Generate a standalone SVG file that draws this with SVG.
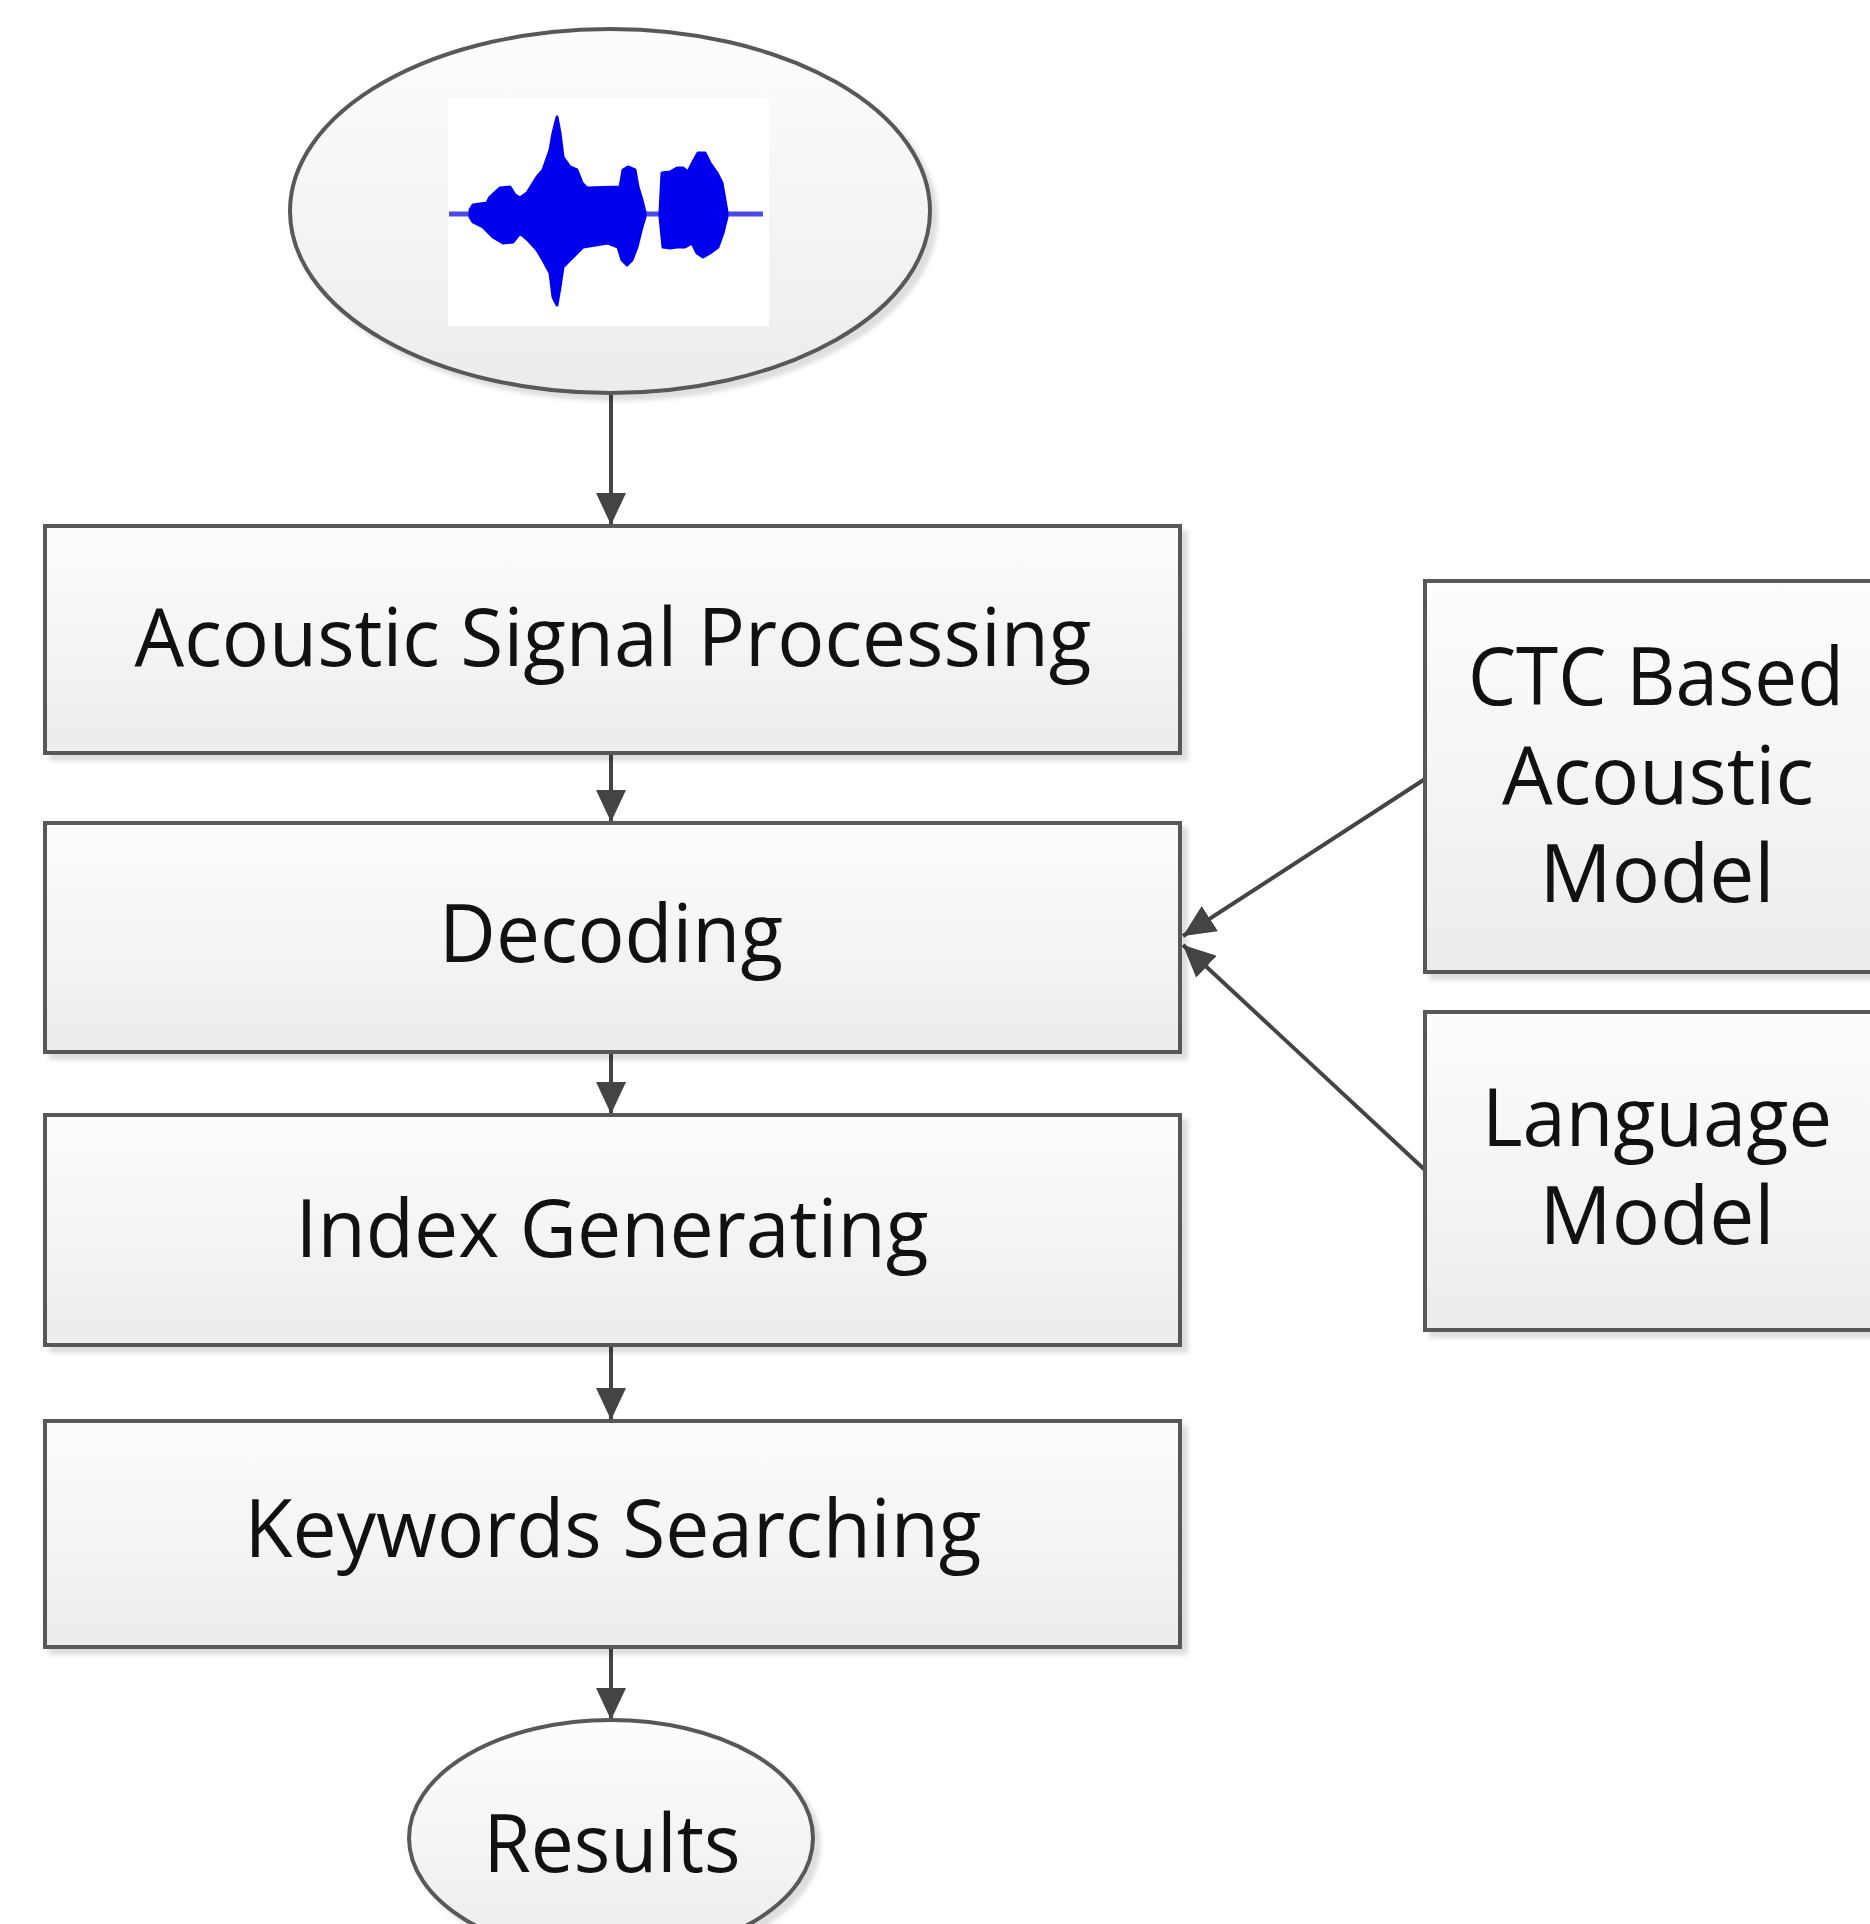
<svg xmlns="http://www.w3.org/2000/svg" width="1870" height="1924" viewBox="0 0 1870 1924">
<style>
.box{fill:url(#g);stroke:#595959;stroke-width:4;filter:url(#sh)}
.t{font-family:"Open Sans","Noto Sans",sans-serif;font-size:80px;fill:#111;text-anchor:middle}
.c{stroke:#444;stroke-width:4;fill:none;marker-end:url(#ah)}
.w{fill:#0000ee;stroke:#0000ee;stroke-width:3;stroke-linejoin:round}
</style>
<defs>
<linearGradient id="g" x1="0" y1="0" x2="0" y2="1"><stop offset="0" stop-color="#fdfdfd"/><stop offset="1" stop-color="#ececec"/></linearGradient>
<filter id="sh" x="-5%" y="-5%" width="115%" height="120%"><feDropShadow dx="6" dy="6" stdDeviation="2" flood-color="#000" flood-opacity="0.13"/></filter>
<marker id="ah" markerUnits="userSpaceOnUse" markerWidth="32" markerHeight="30" viewBox="0 0 32 30" refX="32" refY="15" orient="auto"><path d="M0,0 L32,15 L0,30 z" fill="#444"/></marker>
</defs>
<rect width="1870" height="1924" fill="#fff"/>
<g id="connectors">
<line class="c" x1="611" y1="395" x2="611" y2="525"/>
<line class="c" x1="611" y1="754" x2="611" y2="822"/>
<line class="c" x1="611" y1="1054" x2="611" y2="1114"/>
<line class="c" x1="611" y1="1347" x2="611" y2="1420"/>
<line class="c" x1="611" y1="1649" x2="611" y2="1720"/>
<line class="c" x1="1425" y1="779" x2="1183" y2="936"/>
<line class="c" x1="1425" y1="1170" x2="1183" y2="945"/>
</g>
<g id="audio">
<ellipse class="box" cx="610" cy="211" rx="320" ry="182"/>
<rect x="448" y="98" width="321" height="228" fill="#fff"/>
<line x1="449" y1="214" x2="763" y2="214" stroke="#4a4ae8" stroke-width="5"/>
<polygon class="w" points="470,210 473,205 487,203 490,197 500,188 510,187 515,195 520,198 527,193 537,177 543,170 550,150 553,133 557,117 560,133 563,157 570,167 577,170 582,183 587,188 620,187 623,170 628,167 635,170 638,187 642,200 645,212 645,217 642,227 637,247 632,260 627,265 622,260 618,247 608,243 583,247 577,253 570,260 563,267 560,287 557,305 553,297 550,273 543,260 537,250 528,240 520,233 513,242 503,243 493,237 483,227 473,222 470,217"/>
<polygon class="w" points="660,212 662,173 670,172 677,168 683,168 688,172 693,162 698,153 705,153 710,163 717,173 722,183 725,200 727,212 727,217 723,233 718,247 710,253 703,257 697,253 692,243 685,247 677,247 670,248 663,247 660,217"/>
</g>
<g id="asp">
<rect class="box" x="45" y="526" width="1135" height="227"/>
<text class="t" x="613" y="666" textLength="957" lengthAdjust="spacingAndGlyphs">Acoustic Signal Processing</text>
</g>
<g id="decoding">
<rect class="box" x="45" y="823" width="1135" height="229"/>
<text class="t" x="611" y="962" textLength="344" lengthAdjust="spacingAndGlyphs">Decoding</text>
</g>
<g id="index">
<rect class="box" x="45" y="1115" width="1135" height="230"/>
<text class="t" x="612" y="1257" textLength="633" lengthAdjust="spacingAndGlyphs">Index Generating</text>
</g>
<g id="keywords">
<rect class="box" x="45" y="1421" width="1135" height="226"/>
<text class="t" x="613" y="1557" textLength="737" lengthAdjust="spacingAndGlyphs">Keywords Searching</text>
</g>
<g id="results">
<ellipse class="box" cx="611" cy="1838" rx="202" ry="118"/>
<text class="t" x="612" y="1872" textLength="257" lengthAdjust="spacingAndGlyphs">Results</text>
</g>
<g id="ctc">
<rect class="box" x="1425" y="581" width="470" height="391"/>
<text class="t" x="1656" y="705" textLength="376" lengthAdjust="spacingAndGlyphs">CTC Based</text>
<text class="t" x="1658" y="804" textLength="312" lengthAdjust="spacingAndGlyphs">Acoustic</text>
<text class="t" x="1657" y="902" textLength="235" lengthAdjust="spacingAndGlyphs">Model</text>
</g>
<g id="lm">
<rect class="box" x="1425" y="1012" width="470" height="318"/>
<text class="t" x="1657" y="1146" textLength="350" lengthAdjust="spacingAndGlyphs">Language</text>
<text class="t" x="1657" y="1244" textLength="235" lengthAdjust="spacingAndGlyphs">Model</text>
</g>
</svg>
